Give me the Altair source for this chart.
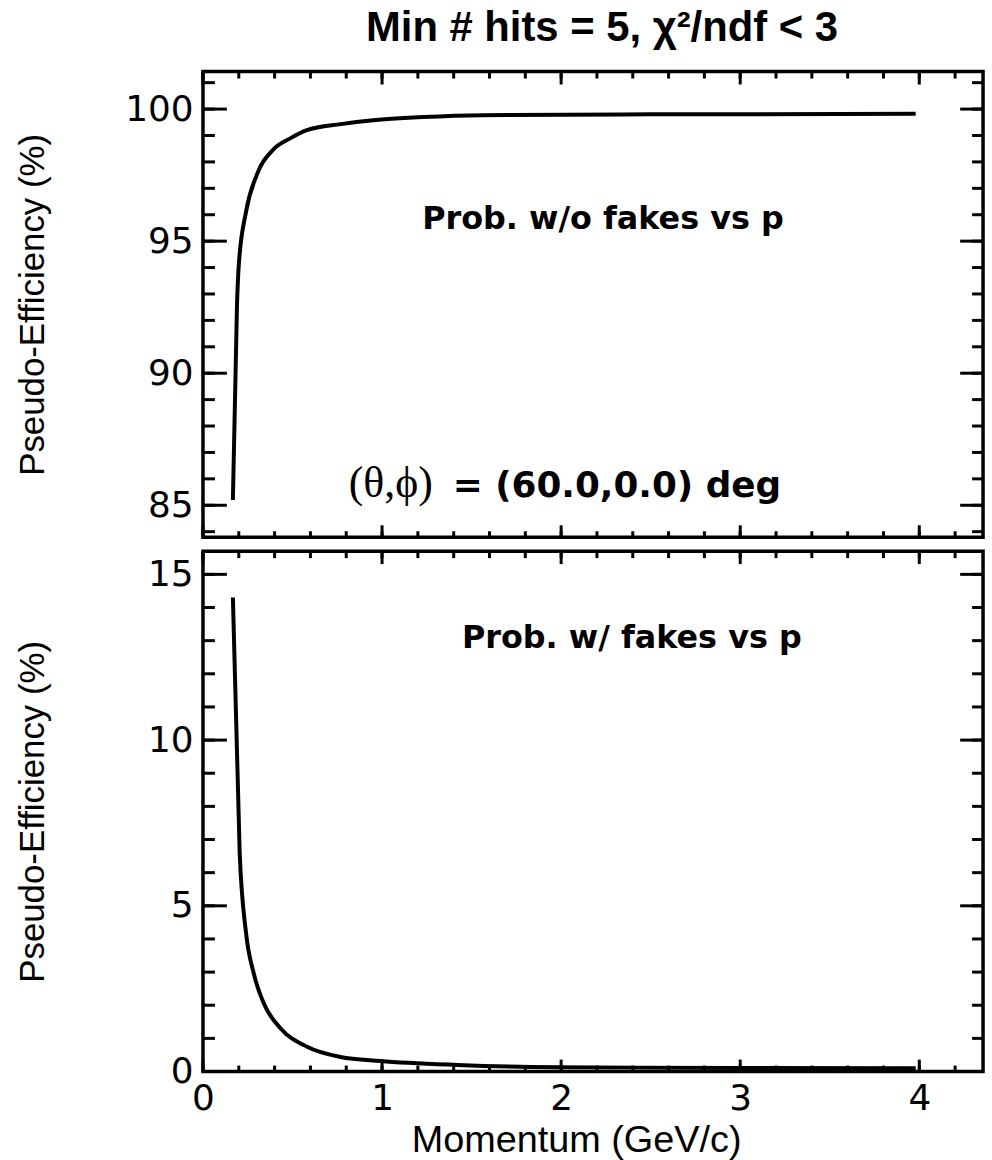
import altair as alt
import pandas as pd

# ---------------- data ----------------
p_top = [0.167, 0.19, 0.20, 0.24, 0.30, 0.39, 0.49, 0.58, 0.77, 0.95, 1.23, 1.56, 2.5, 3.98]
eff_top = [85.2, 92.6, 94.1, 96.1, 97.5, 98.45, 98.9, 99.2, 99.43, 99.58, 99.7, 99.77, 99.8, 99.82]

p_bot = [0.167, 0.205, 0.24, 0.284, 0.34, 0.434, 0.584, 0.768, 0.99, 1.42, 1.98, 3.0, 3.98]
eff_bot = [14.3, 6.6, 4.2, 2.95, 2.05, 1.3, 0.74, 0.44, 0.32, 0.2, 0.13, 0.11, 0.1]

x_major = [0, 1, 2, 3, 4]
x_minor = [0, 0.2, 0.4, 0.6, 0.8, 1.0, 1.2, 1.4, 1.6, 1.8, 2.0, 2.2, 2.4, 2.6,
           2.8, 3.0, 3.2, 3.4, 3.6, 3.8, 4.0, 4.2]
y_top_major = [85, 90, 95, 100]
y_top_minor = [84, 85, 86, 87, 88, 89, 90, 91, 92, 93, 94, 95, 96, 97, 98, 99, 100, 101]
y_bot_major = [0, 5, 10, 15]
y_bot_minor = [0, 1, 2, 3, 4, 5, 6, 7, 8, 9, 10, 11, 12, 13, 14, 15]

title_text = "Min # hits = 5, χ²/ndf < 3"
y_title = "Pseudo-Efficiency (%)"
x_title = "Momentum (GeV/c)"
label_top = "Prob. w/o fakes vs p"
label_bot = "Prob. w/ fakes vs p"
angle_sym = "(θ,ϕ)"
angle_val = "= (60.0,0.0) deg"

# ---------------- layout ----------------
W = 784
H_TOP = 468
H_BOT = 523
X_DOMAIN = [0, 4.356]
Y_TOP_DOMAIN = [83.79, 101.42]
Y_BOT_DOMAIN = [0, 15.7]


def xenc(axis):
    return alt.X("p:Q", scale=alt.Scale(domain=X_DOMAIN, nice=False, zero=False), axis=axis)


def yenc(axis, dom):
    return alt.Y("v:Q", scale=alt.Scale(domain=dom, nice=False, zero=False), axis=axis)


def y_axis(values, h):
    return alt.Axis(values=values, labels=True, ticks=False, tickSize=0, domain=False, grid=False,
                    labelPadding=10, labelFont="DejaVu Sans", labelFontSize=36, labelColor="black",
                    title=y_title, titleFont="Liberation Sans", titleFontSize=35,
                    titleFontWeight="normal", titleColor="black", titleX=-160, titleY=h / 2,
                    titleAngle=270, titleBaseline="alphabetic", titleAlign="center")


def panel(p, v, ydom, ymaj, ymin, h, xaxis, yaxis, texts):
    line_df = pd.DataFrame({"p": p, "v": v})
    xmaj_df = pd.DataFrame({"p": x_major})
    xmin_df = pd.DataFrame({"p": x_minor})
    ymaj_df = pd.DataFrame({"v": ymaj})
    ymin_df = pd.DataFrame({"v": ymin})

    line = alt.Chart(line_df).mark_line(color="black", strokeWidth=4, interpolate="monotone").encode(
        x=xenc(xaxis), y=yenc(yaxis, ydom))

    layers = [line]
    # x ticks (bottom and top, inward)
    for df, ln in ((xmaj_df, 12), (xmin_df, 6)):
        layers.append(alt.Chart(df).mark_rule(color="black", strokeWidth=3).encode(
            x=xenc(xaxis), y=alt.value(h), y2=alt.value(h - ln)))
        layers.append(alt.Chart(df).mark_rule(color="black", strokeWidth=3).encode(
            x=xenc(xaxis), y=alt.value(0), y2=alt.value(ln + 1)))
    # y ticks (left and right, inward)
    for df, ln in ((ymaj_df, 24), (ymin_df, 12)):
        layers.append(alt.Chart(df).mark_rule(color="black", strokeWidth=3).encode(
            y=yenc(yaxis, ydom), x=alt.value(0), x2=alt.value(ln)))
        layers.append(alt.Chart(df).mark_rule(color="black", strokeWidth=3).encode(
            y=yenc(yaxis, ydom), x=alt.value(W), x2=alt.value(W - ln + 1)))
    for txt, font, size, weight, align, xpos, ypos in texts:
        layers.append(alt.Chart(pd.DataFrame({"t": [txt]})).mark_text(
            font=font, fontSize=size, fontWeight=weight, align=align, baseline="alphabetic",
            color="black").encode(x=alt.value(xpos), y=alt.value(ypos), text="t:N"))
    return alt.layer(*layers).properties(width=W, height=h)


top_xaxis = alt.Axis(values=x_major, labels=False, ticks=False, domain=False, grid=False, title=None)
bot_xaxis = alt.Axis(values=x_major, labels=True, ticks=False, tickSize=0, domain=False, grid=False,
                     labelPadding=38, labelBaseline="alphabetic", labelFlush=False,
                     labelFont="DejaVu Sans", labelFontSize=36, labelColor="black",
                     title=x_title, titleFont="Liberation Sans", titleFontSize=38,
                     titleFontWeight="normal", titleColor="black", titleX=375, titleY=80,
                     titleBaseline="alphabetic", titleAlign="center")

top = panel(p_top, eff_top, Y_TOP_DOMAIN, y_top_major, y_top_minor, H_TOP, top_xaxis,
            y_axis(y_top_major, H_TOP),
            [(title_text, "Liberation Sans", 42, "bold", "center", 401, -31),
             (label_top, "DejaVu Sans", 32, "bold", "center", 402, 158),
             (angle_sym, "Liberation Serif, DejaVu Serif", 44, "normal", "right", 231, 428),
             (angle_val, "DejaVu Sans", 36, "bold", "left", 251, 428)])

bottom = panel(p_bot, eff_bot, Y_BOT_DOMAIN, y_bot_major, y_bot_minor, H_BOT, bot_xaxis,
               y_axis(y_bot_major, H_BOT),
               [(label_bot, "DejaVu Sans", 32, "bold", "center", 431, 97)])

chart = alt.vconcat(top, bottom, spacing=14, bounds="flush").properties(
    padding={"left": 14, "top": 2, "right": 5, "bottom": 0},
    background="white",
).configure_view(stroke="black", strokeWidth=3.5)

chart.save("out.html", embed_options={"renderer": "svg", "actions": False})
